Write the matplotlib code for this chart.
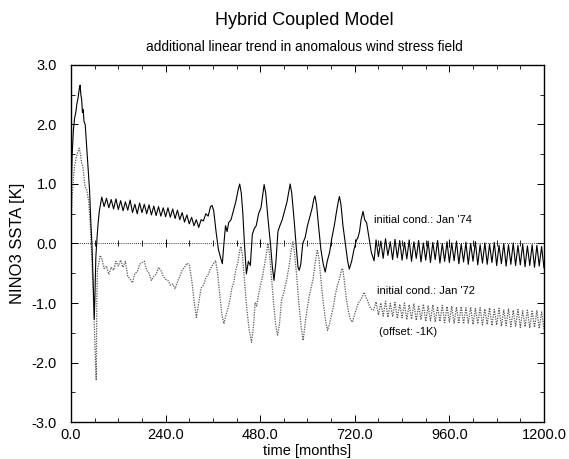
import numpy as np
import matplotlib
matplotlib.use("Agg")
import matplotlib.pyplot as plt
from matplotlib.ticker import MultipleLocator

plt.rcParams['font.family'] = ['Liberation Sans', 'DejaVu Sans']

# ---- data (time in months, NINO3 SSTA in K) ----

# run started from Jan '74: initial transient
early74 = [(0, 0.75), (3, 1.5), (6, 1.9), (9, 2.1), (12, 2.2), (15, 2.35), (18, 2.45),
           (21, 2.6), (23, 2.66), (25, 2.5), (27, 2.42), (29, 2.2), (31, 2.25), (33, 2.05),
           (36, 2.0), (39, 1.7), (43, 1.3), (47, 0.9), (50, 0.4), (53, 0.0), (56, -0.6),
           (59, -1.27), (61, -0.8), (63, -0.23), (66, 0.1), (69, 0.36), (72, 0.55)]
# plateau, one value every 6 months from month 78
plateau74 = [0.78, 0.62, 0.76, 0.60, 0.74, 0.58, 0.75, 0.57, 0.72, 0.55,
             0.70, 0.56, 0.73, 0.52, 0.66, 0.50, 0.68, 0.52, 0.66, 0.50,
             0.65, 0.48, 0.63, 0.47, 0.62, 0.46, 0.60, 0.45, 0.60, 0.44,
             0.58, 0.42, 0.56, 0.40, 0.52, 0.36, 0.48, 0.33, 0.44, 0.30,
             0.40, 0.27, 0.40, 0.38, 0.50, 0.46, 0.62]
# interannual oscillations
enso74 = [(358, 0.64), (362, 0.55), (368, 0.2), (374, -0.1), (380, -0.25), (384, -0.34),
          (388, 0.0), (392, 0.3), (396, 0.2), (400, 0.35), (406, 0.4), (412, 0.55),
          (418, 0.7), (424, 0.9), (428, 1.0), (432, 0.85), (436, 0.5), (440, 0.0),
          (445, -0.51), (450, -0.3), (455, -0.37), (460, 0.15), (465, 0.25), (470, 0.3),
          (476, 0.5), (482, 0.6), (486, 0.8), (490, 0.99), (494, 0.85), (500, 0.4),
          (506, 0.0), (511, -0.4), (515, -0.62), (520, -0.3), (525, 0.2), (530, 0.3),
          (536, 0.4), (542, 0.55), (548, 0.7), (552, 0.85), (556, 1.0), (560, 0.85),
          (566, 0.4), (572, -0.1), (576, -0.4), (579, -0.45), (583, -0.35), (588, 0.0),
          (594, 0.1), (600, 0.3), (606, 0.45), (612, 0.6), (616, 0.75), (619, 0.8),
          (623, 0.65), (628, 0.3), (634, -0.1), (640, -0.35), (645, -0.48), (650, -0.3),
          (656, -0.15), (662, 0.1), (668, 0.3), (674, 0.55), (678, 0.7), (681, 0.79),
          (685, 0.65), (690, 0.3), (696, 0.0), (702, -0.3), (706, -0.43), (712, -0.3),
          (718, -0.1), (724, 0.05), (728, 0.1), (732, 0.2), (736, 0.4), (741, 0.54),
          (745, 0.4), (750, 0.35), (756, 0.1), (762, -0.15), (769, -0.29)]
# annual cycle from month 774: highs and lows
tail74_hi = [0.06, 0.04, 0.08, 0.03, 0.07, 0.05, 0.02, 0.06, 0.03, 0.05, 0.01, 0.04,
             0.02, 0.05, 0.00, 0.03, 0.01, 0.04, -0.01, 0.02, 0.00, 0.03, -0.02, 0.01,
             -0.01, 0.02, -0.03, 0.00, -0.02, 0.01, -0.03, -0.01, -0.04, -0.02, -0.03, -0.05]
tail74_lo = [-0.22, -0.25, -0.20, -0.27, -0.24, -0.28, -0.26, -0.30, -0.25, -0.31, -0.28, -0.32,
             -0.27, -0.33, -0.30, -0.32, -0.29, -0.34, -0.31, -0.35, -0.30, -0.36, -0.33, -0.35,
             -0.32, -0.37, -0.34, -0.38, -0.35, -0.37, -0.36, -0.39, -0.37, -0.40, -0.38, -0.41]

# run started from Jan '72, shifted by -1 K
early72 = [(0, 0.3), (3, 0.8), (6, 1.1), (9, 1.3), (12, 1.4), (15, 1.5), (18, 1.55),
           (21, 1.6), (24, 1.5), (27, 1.35), (30, 1.3), (33, 1.1), (36, 0.95), (40, 0.9),
           (45, 0.7), (49, 0.3), (53, -0.3), (56, -0.8), (59, -1.4), (62, -1.95), (64, -2.3),
           (65.5, -0.9), (67, -0.45), (70, -0.35), (74, -0.2)]
plateau72 = [-0.25, -0.42, -0.38, -0.52, -0.40, -0.45, -0.30, -0.38, -0.28, -0.40,
             -0.30, -0.55, -0.60, -0.66, -0.50, -0.48, -0.35, -0.32, -0.30, -0.45,
             -0.50, -0.62, -0.55, -0.52, -0.40, -0.45, -0.55, -0.60, -0.62, -0.70,
             -0.68, -0.76, -0.65, -0.55, -0.45, -0.40, -0.33, -0.36, -0.60, -0.95,
             -1.24, -1.00, -0.75, -0.70, -0.58, -0.52, -0.42]
enso72 = [(360, -0.35), (367, -0.29), (372, -0.5), (378, -0.9), (383, -1.2), (388, -1.35),
          (393, -1.2), (398, -1.1), (403, -0.95), (408, -0.75), (413, -0.65), (418, -0.45),
          (424, -0.3), (428, -0.12), (431, -0.05), (435, -0.2), (440, -0.6), (446, -1.1),
          (452, -1.45), (458, -1.66), (463, -1.4), (467, -1.0), (471, -1.05), (476, -0.85),
          (481, -0.7), (486, -0.55), (491, -0.35), (496, -0.15), (500, 0.0), (504, -0.2),
          (509, -0.6), (514, -1.0), (519, -1.35), (524, -1.55), (529, -1.35), (534, -0.95),
          (539, -0.85), (544, -0.7), (549, -0.55), (554, -0.35), (559, -0.1), (563, 0.03),
          (567, -0.15), (572, -0.5), (578, -1.0), (584, -1.4), (589, -1.63), (594, -1.35),
          (599, -1.1), (604, -0.9), (609, -0.75), (614, -0.6), (619, -0.35), (625, -0.1),
          (629, -0.25), (634, -0.6), (640, -1.0), (646, -1.3), (651, -1.46), (656, -1.35),
          (661, -1.2), (666, -1.05), (671, -0.85), (676, -0.7), (681, -0.6), (686, -0.45),
          (689, -0.42), (693, -0.6), (698, -0.9), (704, -1.15), (709, -1.28), (714, -1.32),
          (719, -1.2), (724, -1.1), (729, -1.0), (734, -0.95), (739, -0.9), (744, -0.82),
          (748, -0.9), (752, -0.95), (757, -1.05), (761, -1.1), (768, -1.12)]
tail72_hi = [-0.98, -1.00, -0.97, -1.01, -0.99, -1.02, -1.00, -1.03, -1.01, -1.04, -1.02, -1.05,
             -1.03, -1.06, -1.04, -1.06, -1.05, -1.07, -1.06, -1.08, -1.07, -1.09, -1.08, -1.10,
             -1.08, -1.11, -1.09, -1.12, -1.10, -1.12, -1.11, -1.13, -1.12, -1.14, -1.13, -1.15]
tail72_lo = [-1.20, -1.22, -1.24, -1.23, -1.26, -1.25, -1.28, -1.27, -1.29, -1.28, -1.31, -1.30,
             -1.32, -1.31, -1.33, -1.32, -1.34, -1.33, -1.35, -1.34, -1.36, -1.35, -1.37, -1.36,
             -1.38, -1.37, -1.39, -1.38, -1.40, -1.39, -1.41, -1.40, -1.42, -1.41, -1.43, -1.44]

xticks = [0, 240, 480, 720, 960, 1200]
yticks = [-3, -2, -1, 0, 1, 2, 3]


def build(early, plateau, enso, hi, lo):
    t1, v1 = zip(*early)
    t2 = 78 + 6 * np.arange(len(plateau))
    t3, v3 = zip(*enso)
    tail = np.column_stack([hi, lo]).ravel()
    t4 = 774 + 6 * np.arange(len(tail))
    t = np.concatenate([t1, t2, t3, t4])
    v = np.concatenate([v1, plateau, v3, tail])
    return t, v


t74, v74 = build(early74, plateau74, enso74, tail74_hi, tail74_lo)
t72, v72 = build(early72, plateau72, enso72, tail72_hi, tail72_lo)

fig = plt.figure(figsize=(5.69, 4.59), dpi=100)
ax = fig.add_axes([0.1248, 0.0806, 0.8312, 0.7778])

ax.axhline(0, color='k', lw=0.6, ls=(0, (1, 1.5)))
ax.plot(t72, v72, color='0.35', lw=0.9, ls=(0, (1, 1)))
ax.plot(t74, v74, color='k', lw=0.8)

ax.set_xlim(0, 1200)
ax.set_ylim(-3, 3)
ax.set_xticks(xticks)
ax.set_xticklabels([f"{x:.1f}" for x in xticks])
ax.set_yticks(yticks)
ax.set_yticklabels([f"{y:.1f}" for y in yticks])
ax.xaxis.set_minor_locator(MultipleLocator(60))
ax.yaxis.set_minor_locator(MultipleLocator(0.5))
ax.tick_params(which='both', direction='in', top=True, right=True, labelsize=10.5)
ax.tick_params(axis='y', pad=10)
ax.tick_params(axis='x', pad=4)
ax.tick_params(which='major', length=5, width=0.7)
ax.tick_params(which='minor', length=3, width=0.6)
for s in ax.spines.values():
    s.set_linewidth(1.0)

# ticks along the zero line
sec = ax.secondary_xaxis(0.5)
sec.set_xticks(xticks)
sec.xaxis.set_minor_locator(MultipleLocator(60))
sec.tick_params(which='both', direction='inout', labeltop=False, labelbottom=False)
sec.tick_params(which='major', length=6, width=0.7)
sec.tick_params(which='minor', length=4, width=0.6)
for s in sec.spines.values():
    s.set_visible(False)

ax.set_xlabel("time [months]", fontsize=10.5, labelpad=2)
ax.set_ylabel("NINO3 SSTA [K]", fontsize=12, labelpad=5)

ax.text(770, 0.39, "initial cond.: Jan '74", fontsize=8, va='center')
ax.text(777, -0.80, "initial cond.: Jan '72", fontsize=8, va='center')
ax.text(782, -1.48, "(offset: -1K)", fontsize=8, va='center')

fig.text(0.535, 0.956, "Hybrid Coupled Model", fontsize=13, ha='center', va='center')
fig.text(0.535, 0.898, "additional linear trend in anomalous wind stress field",
         fontsize=9.8, ha='center', va='center')

fig.savefig("out.png", dpi=100)
